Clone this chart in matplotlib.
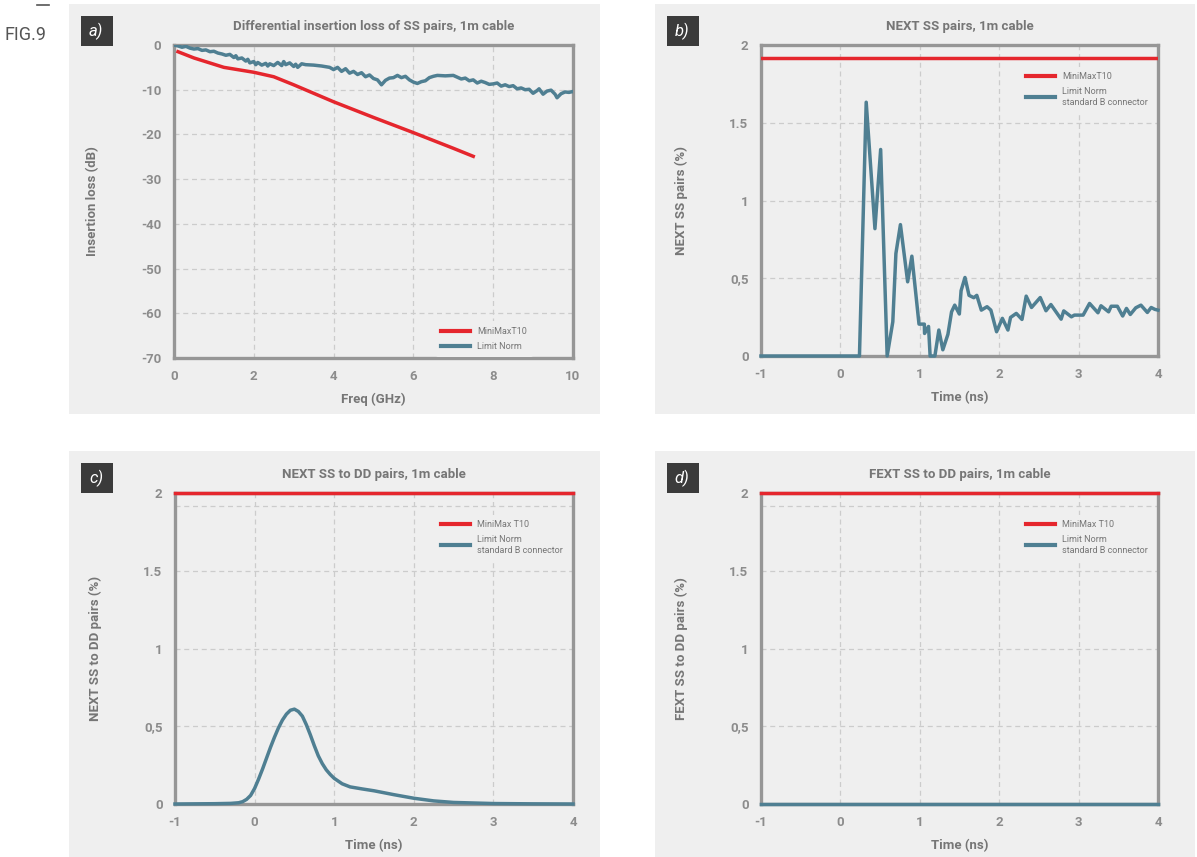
import matplotlib.pyplot as plt
from matplotlib.patches import Rectangle
from matplotlib.lines import Line2D

plt.rcParams["font.family"] = ["Roboto", "DejaVu Sans"]
plt.rcParams["axes.unicode_minus"] = False

RED = "#e5262d"
BLUE = "#4f7f92"
BG = "#efefef"
TXT = "#767676"
TICK = "#8c8c8c"
FRAME = "#969696"
GRID = "#cccccc"

# ---- data ----
# a) insertion loss
a_red_f = [0.1, 0.5, 1.0, 1.25, 2.0, 2.5, 3.0, 4.0, 5.0, 6.0, 7.0, 7.5]
a_red_db = [-1.5, -2.9, -4.3, -5.0, -6.1, -7.1, -8.9, -12.7, -16.2, -19.6, -23.1, -24.9]
a_blue_f = [0.0, 0.1, 0.2, 0.3, 0.4, 0.5, 0.6, 0.7, 0.8, 0.9, 1.0, 1.1, 1.2, 1.3, 1.4,
            1.5, 1.55, 1.6, 1.7, 1.8, 1.85, 1.9, 2.0, 2.05, 2.1, 2.2, 2.3, 2.35, 2.4,
            2.5, 2.6, 2.7, 2.75, 2.8, 2.9, 3.0, 3.05, 3.1, 3.2, 3.3, 3.5, 3.7, 3.9,
            4.0, 4.1, 4.2, 4.3, 4.4, 4.5, 4.6, 4.7, 4.8, 4.9, 5.0, 5.1, 5.2, 5.3,
            5.4, 5.5, 5.6, 5.7, 5.8, 5.9, 6.0, 6.1, 6.2, 6.3, 6.4, 6.5, 6.6, 6.8,
            7.0, 7.1, 7.2, 7.3, 7.4, 7.5, 7.6, 7.7, 7.8, 7.9, 8.0, 8.1, 8.2, 8.3,
            8.4, 8.5, 8.6, 8.7, 8.8, 8.9, 9.0, 9.1, 9.15, 9.25, 9.35, 9.45, 9.55,
            9.6, 9.7, 9.8, 9.9, 10.0]
a_blue_db = [0.0, -0.2, -0.5, -0.3, -0.7, -0.9, -0.8, -1.2, -1.1, -1.5, -1.4, -1.8,
             -2.0, -2.3, -2.1, -2.8, -2.4, -3.1, -2.9, -3.6, -3.2, -4.0, -3.7, -4.4,
             -3.9, -4.5, -4.1, -4.7, -4.2, -4.6, -3.9, -4.6, -3.7, -4.4, -4.0, -4.8,
             -4.3, -5.0, -4.2, -4.4, -4.5, -4.7, -5.0, -5.5, -5.0, -5.9, -5.3, -6.3,
             -5.9, -6.6, -6.2, -7.1, -6.7, -7.5, -7.8, -8.9, -7.9, -7.4, -7.3, -6.8,
             -7.3, -7.0, -7.8, -8.3, -8.6, -8.2, -8.0, -7.3, -7.0, -6.8, -6.9, -6.8,
             -7.2, -7.6, -7.4, -8.0, -7.8, -8.5, -8.1, -8.4, -8.8, -8.7, -8.5, -9.2,
             -8.9, -9.3, -9.1, -9.8, -9.6, -10.0, -9.9, -10.8, -10.2, -9.8, -11.0,
             -10.3, -10.1, -11.0, -11.8, -10.9, -10.5, -10.6, -10.4]

# b) NEXT SS pairs
b_t = [-1.0, 0.24, 0.325, 0.435, 0.507, 0.589, 0.66, 0.699, 0.756, 0.847, 0.90,
       0.99, 1.057, 1.06, 1.11, 1.13, 1.19, 1.24, 1.29, 1.354, 1.40, 1.44, 1.498,
       1.52, 1.569, 1.62, 1.68, 1.718, 1.775, 1.847, 1.895, 1.967, 2.04, 2.11,
       2.143, 2.215, 2.287, 2.34, 2.407, 2.517, 2.589, 2.651, 2.78, 2.813, 2.909,
       2.947, 3.057, 3.138, 3.244, 3.282, 3.378, 3.41, 3.488, 3.555, 3.603, 3.651,
       3.72, 3.785, 3.866, 3.914, 3.96, 4.0]
b_pct = [0.0, 0.0, 1.632, 0.819, 1.328, 0.0, 0.22, 0.659, 0.845, 0.477, 0.642,
         0.205, 0.205, 0.145, 0.19, 0.0, 0.0, 0.167, 0.04, 0.139, 0.284, 0.327,
         0.27, 0.42, 0.505, 0.39, 0.375, 0.39, 0.295, 0.317, 0.295, 0.156, 0.242,
         0.167, 0.248, 0.274, 0.235, 0.385, 0.312, 0.376, 0.291, 0.331, 0.237,
         0.29, 0.252, 0.263, 0.263, 0.338, 0.278, 0.323, 0.284, 0.32, 0.32, 0.257,
         0.306, 0.267, 0.31, 0.327, 0.28, 0.312, 0.30, 0.295]
b_red = 1.917

# c) NEXT SS to DD pairs
c_t = [-1.0, -0.5, -0.3, -0.2, -0.15, -0.1, -0.05, 0.0, 0.05, 0.1, 0.15, 0.2,
       0.25, 0.3, 0.35, 0.4, 0.45, 0.5, 0.55, 0.6, 0.65, 0.7, 0.75, 0.8, 0.85,
       0.9, 0.95, 1.0, 1.1, 1.2, 1.35, 1.5, 1.75, 2.0, 2.25, 2.5, 3.0, 3.5, 4.0]
c_pct = [0.0, 0.002, 0.004, 0.008, 0.015, 0.03, 0.055, 0.1, 0.16, 0.225, 0.295,
         0.365, 0.43, 0.49, 0.54, 0.578, 0.603, 0.61, 0.595, 0.565, 0.51, 0.445,
         0.375, 0.31, 0.26, 0.22, 0.19, 0.165, 0.13, 0.11, 0.097, 0.085, 0.06,
         0.037, 0.02, 0.01, 0.003, 0.001, 0.0]

# d) FEXT SS to DD pairs
d_t = [-1.0, 4.0]
d_pct = [0.0, 0.0]

limit_red = 2.0

W, H = 1197, 857
fig = plt.figure(figsize=(W / 100, H / 100), dpi=100)


def fx(px):
    return px / W


def fy(py):
    return 1 - py / H


def panel(x0, y0, x1, y1, label):
    fig.patches.append(Rectangle((fx(x0), fy(y1)), fx(x1 - x0), (y1 - y0) / H,
                                 transform=fig.transFigure, facecolor=BG,
                                 edgecolor="none", zorder=-2))
    bx0, by0 = x0 + 12, y0 + 12
    fig.patches.append(Rectangle((fx(bx0), fy(by0 + 30)), fx(32), 30 / H,
                                 transform=fig.transFigure, facecolor="#3b3b3b",
                                 edgecolor="none", zorder=-1))
    fig.text(fx(bx0 + 15), fy(by0 + 15), label, color="white", fontsize=12,
             style="italic", ha="center", va="center")


def make_axes(l, t, r, b):
    ax = fig.add_axes([fx(l), fy(b), fx(r - l), (b - t) / H])
    ax.set_facecolor(BG)
    for s in ax.spines.values():
        s.set_color(FRAME)
        s.set_linewidth(2.4)
    ax.tick_params(length=0, colors=TICK, labelsize=9.5, pad=9)
    ax.grid(True, color=GRID, linestyle=(0, (4, 3)), linewidth=0.9)
    ax.set_axisbelow(True)
    return ax


def style(ax, title, xlabel, ylabel):
    ax.set_title(title, color=TXT, fontsize=9.5, fontweight="bold", pad=11)
    ax.set_xlabel(xlabel, color=TXT, fontsize=9.5, fontweight="bold", labelpad=7)
    ax.set_ylabel(ylabel, color=TXT, fontsize=9.5, fontweight="bold", labelpad=30)
    for lab in ax.get_xticklabels() + ax.get_yticklabels():
        lab.set_fontweight("bold")


def legend(ax, labels, loc, anchor):
    handles = [Line2D([], [], color=RED, lw=3), Line2D([], [], color=BLUE, lw=3)]
    lg = ax.legend(handles, labels, loc=loc, bbox_to_anchor=anchor, fontsize=6.5,
                   frameon=True, facecolor=BG, edgecolor="none", framealpha=1,
                   handlelength=3.2, labelcolor=TXT, borderpad=0.6,
                   labelspacing=0.7)
    return lg


panel(69, 4, 600, 414, "a)")
panel(655, 4, 1195, 414, "b)")
panel(69, 451, 600, 857, "c)")
panel(655, 451, 1195, 857, "d)")

fig.text(fx(5), fy(35), "FIG.9", color="#555555", fontsize=13, va="center")
fig.lines.append(Line2D([fx(37), fx(49)], [fy(5), fy(5)], color="#555555", lw=1.2,
                        transform=fig.transFigure))

# a)
ax = make_axes(174, 45, 573, 358)
ax.plot(a_blue_f, a_blue_db, color=BLUE, lw=2.5, zorder=3)
ax.plot(a_red_f, a_red_db, color=RED, lw=2.5, zorder=4)
ax.set_xlim(0, 10)
ax.set_ylim(-70, 0)
ax.set_xticks([0, 2, 4, 6, 8, 10])
ax.set_yticks(range(-70, 1, 10))
style(ax, "Differential insertion loss of SS pairs, 1m cable", "Freq (GHz)",
      "Insertion loss (dB)")
legend(ax, ["MiniMaxT10", "Limit Norm"], "lower right", (0.91, -0.01))

# b)
ax = make_axes(761, 45, 1158, 356)
ax.plot(b_t, b_pct, color=BLUE, lw=2.5, zorder=3, clip_on=False)
ax.plot([-1, 4], [b_red, b_red], color=RED, lw=2.5, zorder=4)
ax.set_xlim(-1, 4)
ax.set_ylim(0, 2)
ax.set_xticks([-1, 0, 1, 2, 3, 4])
ax.set_yticks([0, 0.5, 1, 1.5, 2])
ax.set_yticklabels(["0", "0,5", "1", "1.5", "2"])
style(ax, "NEXT SS pairs, 1m cable", "Time (ns)", "NEXT SS pairs (%)")
legend(ax, ["MiniMaxT10", "Limit Norm\nstandard B connector"], "upper right",
       (1.0, 0.945))

# c) and d)
for l, r, t_, y_, title, ylab in [
        (175, 573, c_t, c_pct, "NEXT SS to DD pairs, 1m cable", "NEXT SS to DD pairs (%)"),
        (761, 1158, d_t, d_pct, "FEXT SS to DD pairs, 1m cable", "FEXT SS to DD pairs (%)")]:
    ax = make_axes(l, 493, r, 804)
    ax.axhline(b_red, color=GRID, linestyle=(0, (4, 3)), linewidth=0.9, zorder=0)
    ax.plot(t_, y_, color=BLUE, lw=2.5, zorder=3, clip_on=False)
    ax.plot([-1, 4], [limit_red, limit_red], color=RED, lw=2.5, zorder=4,
            clip_on=False)
    ax.set_xlim(-1, 4)
    ax.set_ylim(0, 2)
    ax.set_xticks([-1, 0, 1, 2, 3, 4])
    ax.set_yticks([0, 0.5, 1, 1.5, 2])
    ax.set_yticklabels(["0", "0,5", "1", "1.5", "2"])
    style(ax, title, "Time (ns)", ylab)
    legend(ax, ["MiniMax T10", "Limit Norm\nstandard B connector"], "upper right",
           (1.0, 0.945))

fig.savefig("out.png", dpi=100)
